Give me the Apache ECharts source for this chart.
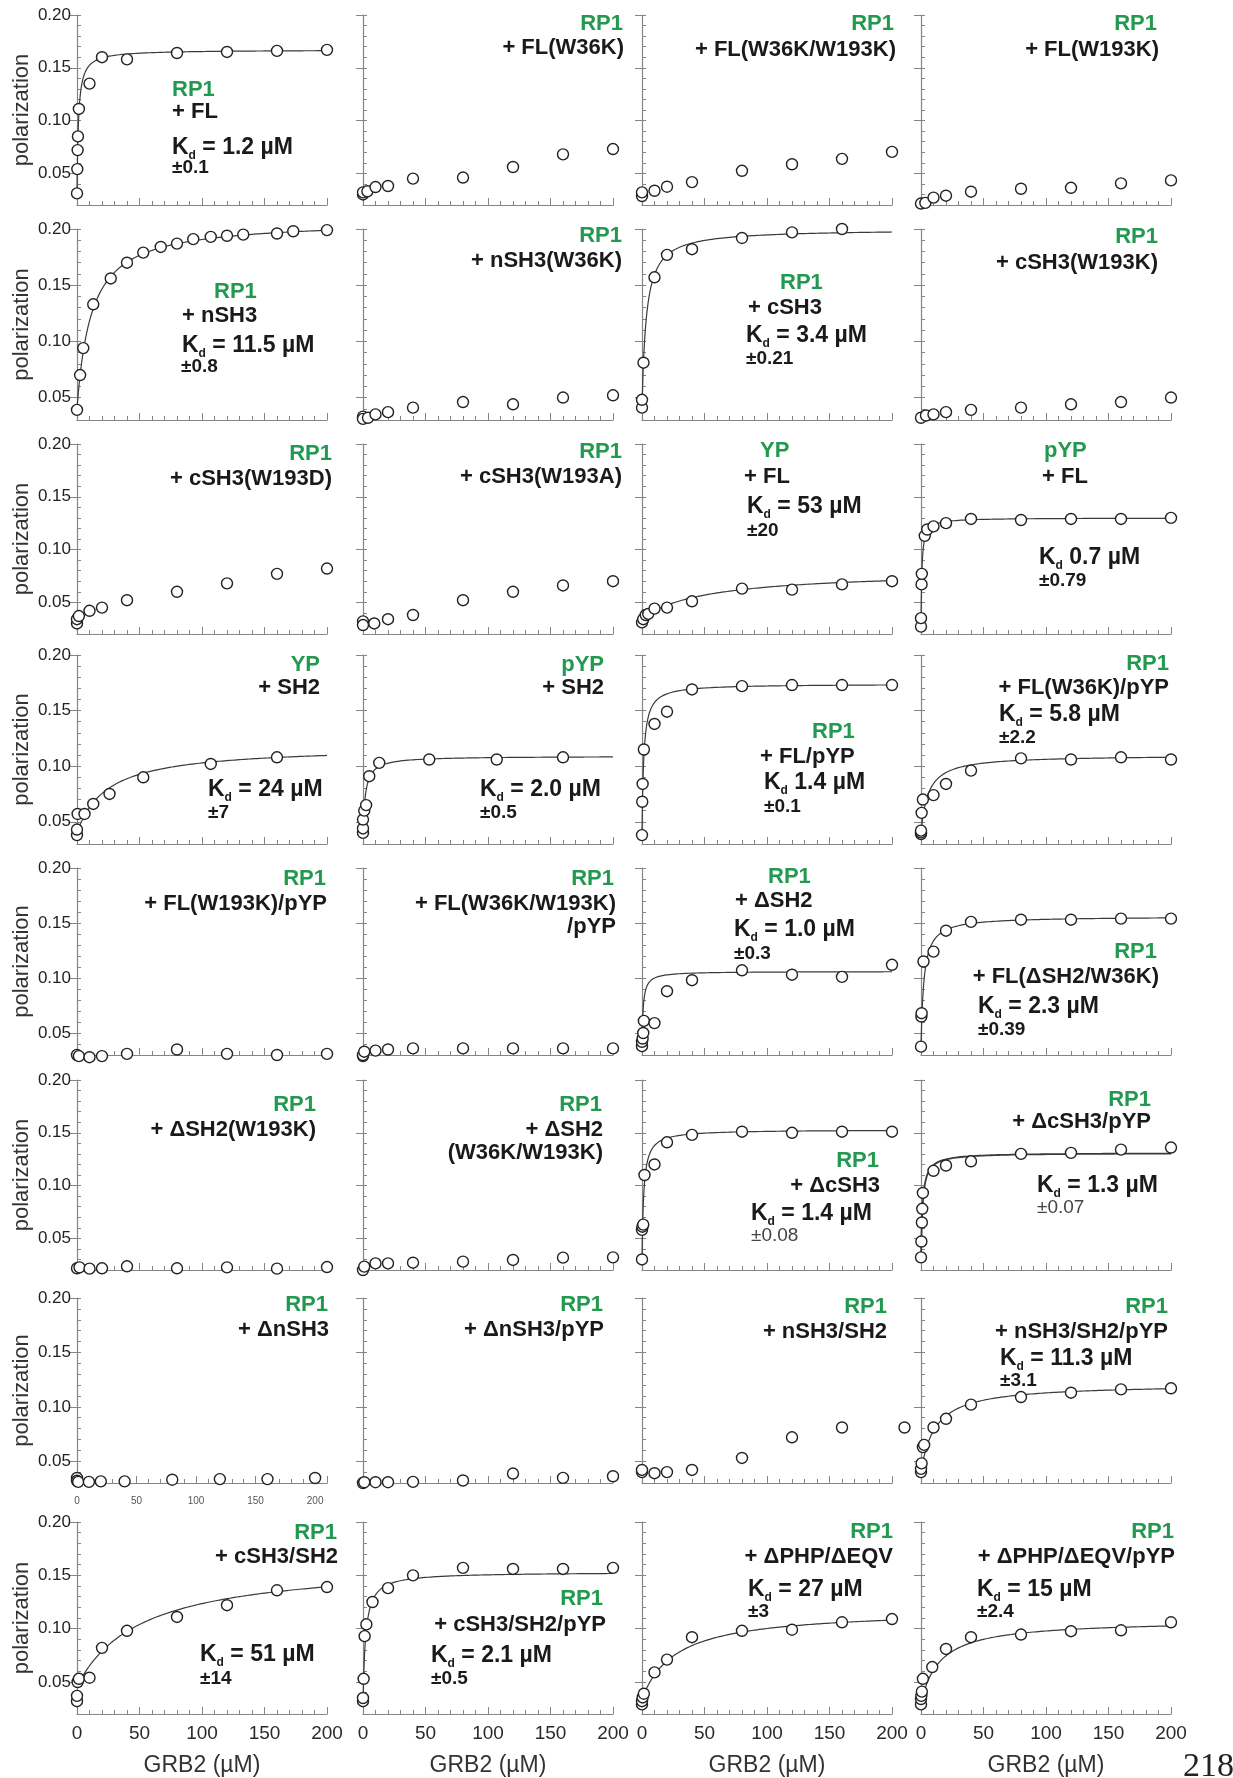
<!DOCTYPE html>
<html>
<head>
<meta charset="utf-8">
<title>GRB2 binding titrations</title>
<script src="https://cdn.jsdelivr.net/npm/echarts@6.0.0/dist/echarts.min.js"></script>
<style>
  html, body { margin: 0; padding: 0; background: #ffffff; }
  #chart { width: 1233px; height: 1778px; }
</style>
</head>
<body>
<div id="chart"></div>
<script>
// Fluorescence polarization titrations of labelled peptides with GRB2 constructs.
// Each panel holds [GRB2 (µM), polarization] pairs.
const rp1_FL = [[0,0.031],[0.25,0.054],[0.5,0.072],[0.75,0.085],[1.5,0.111],[10,0.135],[20,0.160],[40,0.158],[80,0.164],[120,0.165],[160,0.166],[200,0.167]];
const rp1_FL_W36K = [[0,0.030],[0,0.032],[3.5,0.033],[10,0.037],[20,0.038],[40,0.045],[80,0.046],[120,0.056],[160,0.068],[200,0.073]];
const rp1_FL_W36K_W193K = [[0,0.0285],[0,0.032],[10,0.0335],[20,0.0373],[40,0.0417],[80,0.0524],[120,0.0586],[160,0.0637],[200,0.0703]];
const rp1_FL_W193K = [[0,0.0214],[3.5,0.022],[10,0.027],[20,0.0288],[40,0.0326],[80,0.0354],[120,0.0363],[160,0.0405],[200,0.0433]];

const rp1_nSH3 = [[0,0.039],[2.5,0.070],[5,0.094],[13,0.133],[27,0.156],[40,0.170],[53,0.179],[67,0.184],[80,0.187],[93,0.191],[107,0.193],[120,0.194],[133,0.195],[160,0.196],[173,0.198],[200,0.199]];
const rp1_nSH3_W36K = [[0,0.033],[0,0.031],[4,0.032],[10,0.035],[20,0.037],[40,0.041],[80,0.046],[120,0.044],[160,0.050],[200,0.052]];
const rp1_cSH3 = [[0,0.041],[0,0.048],[1.2,0.081],[10,0.157],[20,0.177],[40,0.182],[80,0.192],[120,0.197],[160,0.200]];
const rp1_cSH3_W193K = [[0,0.032],[4,0.034],[10,0.035],[20,0.037],[40,0.039],[80,0.041],[120,0.044],[160,0.046],[200,0.050]];

const rp1_cSH3_W193D = [[0,0.030],[0,0.034],[1.5,0.037],[10,0.042],[20,0.045],[40,0.052],[80,0.060],[120,0.068],[160,0.077],[200,0.082]];
const rp1_cSH3_W193A = [[0,0.032],[0,0.0285],[9,0.030],[20,0.034],[40,0.038],[80,0.052],[120,0.060],[160,0.066],[200,0.070]];
const yp_FL = [[0,0.031],[1,0.034],[3,0.038],[5,0.039],[10,0.044],[20,0.045],[40,0.051],[80,0.063],[120,0.062],[160,0.067],[200,0.070]];
const pyp_FL = [[0,0.027],[0,0.035],[0.45,0.067],[0.65,0.077],[3,0.113],[5,0.119],[10,0.122],[20,0.125],[40,0.129],[80,0.128],[120,0.129],[160,0.129],[200,0.130]];

const yp_SH2 = [[0,0.038],[0,0.043],[0.5,0.057],[6,0.057],[13,0.066],[26,0.075],[53,0.090],[107,0.102],[160,0.108]];
const pyp_SH2 = [[0,0.040],[0,0.044],[0,0.052],[1,0.060],[2.5,0.065],[5,0.091],[13,0.103],[53,0.106],[107,0.106],[160,0.108]];
const rp1_FL_pYP = [[0,0.038],[0.2,0.068],[0.5,0.084],[1.5,0.115],[10,0.138],[20,0.149],[40,0.169],[80,0.172],[120,0.173],[160,0.173],[200,0.173]];
const rp1_FL_W36K_pYP = [[0,0.039],[0,0.0405],[0,0.042],[0.5,0.058],[1.5,0.070],[10,0.074],[20,0.084],[40,0.096],[80,0.107],[120,0.106],[160,0.108],[200,0.106]];

const rp1_FL_W193K_pYP = [[0,0.030],[1.5,0.029],[10,0.028],[20,0.029],[40,0.031],[80,0.035],[120,0.031],[160,0.030],[200,0.031]];
const rp1_FL_W36K_W193K_pYP = [[0,0.029],[0,0.030],[1,0.033],[10,0.034],[20,0.035],[40,0.036],[80,0.036],[120,0.036],[160,0.036],[200,0.036]];
const rp1_dSH2 = [[0,0.038],[0,0.042],[0.5,0.045],[1,0.050],[1.5,0.061],[10,0.059],[20,0.088],[40,0.098],[80,0.107],[120,0.103],[160,0.101],[200,0.112]];
const rp1_FL_dSH2_W36K = [[0,0.0376],[0.3,0.065],[0.5,0.068],[2,0.115],[10,0.124],[20,0.143],[40,0.151],[80,0.153],[120,0.153],[160,0.154],[200,0.154]];

const rp1_dSH2_W193K = [[0,0.0216],[2,0.0225],[10,0.0213],[20,0.0216],[40,0.0235],[80,0.0216],[120,0.0225],[160,0.0213],[200,0.0228]];
const rp1_dSH2_W36K_W193K = [[0,0.020],[1,0.0232],[10,0.0263],[20,0.0263],[40,0.0269],[80,0.0279],[120,0.0295],[160,0.0317],[200,0.032]];
const rp1_dcSH3 = [[0,0.030],[0,0.058],[0.3,0.061],[1,0.063],[2,0.110],[10,0.120],[20,0.141],[40,0.148],[80,0.151],[120,0.150],[160,0.151],[200,0.151]];
const rp1_dcSH3_pYP = [[0,0.032],[0.3,0.047],[0.7,0.065],[1,0.078],[1.5,0.093],[10,0.114],[20,0.119],[40,0.123],[80,0.130],[120,0.131],[160,0.134],[200,0.136]];

const rp1_dnSH3 = [[0,0.0346],[0,0.032],[1,0.031],[10,0.031],[20,0.0315],[40,0.0315],[80,0.033],[120,0.0336],[160,0.0336],[200,0.0346]];
const rp1_dnSH3_pYP = [[0,0.030],[1,0.0307],[10,0.0307],[20,0.0307],[40,0.031],[80,0.0323],[120,0.0387],[160,0.0347],[200,0.0362]];
const rp1_nSH3_SH2 = [[0,0.040],[0,0.042],[10,0.039],[20,0.040],[40,0.042],[80,0.053],[120,0.072],[160,0.081],[210,0.081]];
const rp1_nSH3_SH2_pYP = [[0,0.040],[0,0.043],[0.5,0.048],[1.5,0.063],[2.5,0.065],[10,0.081],[20,0.089],[40,0.102],[80,0.109],[120,0.113],[160,0.116],[200,0.117]];

const rp1_cSH3_SH2 = [[0,0.032],[0,0.037],[0.5,0.050],[1.5,0.053],[10,0.054],[20,0.082],[40,0.098],[80,0.111],[120,0.122],[160,0.136],[200,0.139]];
const rp1_cSH3_SH2_pYP = [[0,0.032],[0,0.035],[0.5,0.053],[1.3,0.093],[2.7,0.104],[7.6,0.125],[20,0.138],[40,0.150],[80,0.157],[120,0.156],[160,0.156],[200,0.157]];
const rp1_dPHP_dEQV = [[0,0.029],[0,0.032],[0.5,0.0355],[1.5,0.039],[10,0.059],[20,0.071],[40,0.092],[80,0.098],[120,0.099],[160,0.106],[200,0.109]];
const rp1_dPHP_dEQV_pYP = [[0,0.029],[0,0.034],[0.3,0.037],[0.7,0.041],[1.5,0.053],[9,0.064],[20,0.081],[40,0.092],[80,0.0945],[120,0.0976],[160,0.0985],[200,0.106]];

// Panels in reading order (4 per row).
const panelPoints = [
  rp1_FL, rp1_FL_W36K, rp1_FL_W36K_W193K, rp1_FL_W193K,
  rp1_nSH3, rp1_nSH3_W36K, rp1_cSH3, rp1_cSH3_W193K,
  rp1_cSH3_W193D, rp1_cSH3_W193A, yp_FL, pyp_FL,
  yp_SH2, pyp_SH2, rp1_FL_pYP, rp1_FL_W36K_pYP,
  rp1_FL_W193K_pYP, rp1_FL_W36K_W193K_pYP, rp1_dSH2, rp1_FL_dSH2_W36K,
  rp1_dSH2_W193K, rp1_dSH2_W36K_W193K, rp1_dcSH3, rp1_dcSH3_pYP,
  rp1_dnSH3, rp1_dnSH3_pYP, rp1_nSH3_SH2, rp1_nSH3_SH2_pYP,
  rp1_cSH3_SH2, rp1_cSH3_SH2_pYP, rp1_dPHP_dEQV, rp1_dPHP_dEQV_pYP
];

const peptides = [
  'RP1','RP1','RP1','RP1',
  'RP1','RP1','RP1','RP1',
  'RP1','RP1','YP','pYP',
  'YP','pYP','RP1','RP1',
  'RP1','RP1','RP1','RP1',
  'RP1','RP1','RP1','RP1',
  'RP1','RP1','RP1','RP1',
  'RP1','RP1','RP1','RP1'
];

const constructs = [
  '+ FL', '+ FL(W36K)', '+ FL(W36K/W193K)', '+ FL(W193K)',
  '+ nSH3', '+ nSH3(W36K)', '+ cSH3', '+ cSH3(W193K)',
  '+ cSH3(W193D)', '+ cSH3(W193A)', '+ FL', '+ FL',
  '+ SH2', '+ SH2', '+ FL/pYP', '+ FL(W36K)/pYP',
  '+ FL(W193K)/pYP', '+ FL(W36K/W193K)\n/pYP', '+ ΔSH2', '+ FL(ΔSH2/W36K)',
  '+ ΔSH2(W193K)', '+ ΔSH2\n(W36K/W193K)', '+ ΔcSH3', '+ ΔcSH3/pYP',
  '+ ΔnSH3', '+ ΔnSH3/pYP', '+ nSH3/SH2', '+ nSH3/SH2/pYP',
  '+ cSH3/SH2', '+ cSH3/SH2/pYP', '+ ΔPHP/ΔEQV', '+ ΔPHP/ΔEQV/pYP'
];

// Dissociation constants (µM) with their errors; null where no binding was fitted.
const kdValues = [
  '1.2', null, null, null,
  '11.5', null, '3.4', null,
  null, null, '53', '0.7',
  '24', '2.0', '1.4', '5.8',
  null, null, '1.0', '2.3',
  null, null, '1.4', '1.3',
  null, null, null, '11.3',
  '51', '2.1', '27', '15'
];
const kdErrors = [
  '±0.1', null, null, null,
  '±0.8', null, '±0.21', null,
  null, null, '±20', '±0.79',
  '±7', '±0.5', '±0.1', '±2.2',
  null, null, '±0.3', '±0.39',
  null, null, '±0.08', '±0.07',
  null, null, null, '±3.1',
  '±14', '±0.5', '±3', '±2.4'
];
// Kd printed without "=" in these panels
const kdNoEquals = [11, 14];

// Baseline and plateau polarization of each fitted isotherm.
const fitBottom = [
  0.031, null, null, null,
  0.040, null, 0.040, null,
  null, null, 0.035, 0.027,
  0.040, 0.040, 0.038, 0.040,
  null, null, 0.040, 0.037,
  null, null, 0.030, 0.030,
  null, null, null, 0.040,
  0.046, 0.030, 0.034, 0.030
];
const fitPlateau = [
  0.167, null, null, null,
  0.208, null, 0.200, null,
  null, null, 0.080, 0.130,
  0.118, 0.109, 0.174, 0.110,
  null, null, 0.106, 0.156,
  null, null, 0.153, 0.131,
  null, null, null, 0.121,
  0.163, 0.153, 0.118, 0.108
];

const yTickLabels = [0.05, 0.10, 0.15, 0.20];
const xTickLabels = [0, 50, 100, 150, 200];

// ---- layout ----
const FONT = '"Liberation Sans", Arial, Helvetica, sans-serif';
const AXIS_COLOR = '#858585';
const GREEN = '#22994f';
const INK = '#1a1a1a';
const colLeft = [77, 363, 642, 921];
const panelWidth = 250;
const rowTop = [15, 229, 444, 655, 868, 1080, 1298, 1522];
const rowBottom = [205, 420, 634, 844, 1055, 1270, 1483, 1715];
const rowYMin = [0.02, 0.03, 0.02, 0.03, 0.03, 0.02, 0.03, 0.02];

// Text placement inside each panel: [dx from y-axis, dy from top, align]
const labelLayout = [
  { pep: [95, 75, 'left'], con: [95, 97, 'left'], kd: [95, 133], err: [95, 153] },
  { pep: [260, 9, 'right'], con: [261, 33, 'right'] },
  { pep: [252, 9, 'right'], con: [254, 35, 'right'] },
  { pep: [236, 9, 'right'], con: [238, 35, 'right'] },

  { pep: [137, 63, 'left'], con: [105, 87, 'left'], kd: [105, 117], err: [104, 138] },
  { pep: [259, 7, 'right'], con: [259, 32, 'right'] },
  { pep: [138, 54, 'left'], con: [106, 79, 'left'], kd: [104, 107], err: [104, 130] },
  { pep: [237, 8, 'right'], con: [237, 34, 'right'] },

  { pep: [255, 10, 'right'], con: [255, 35, 'right'] },
  { pep: [259, 8, 'right'], con: [259, 33, 'right'] },
  { pep: [118, 7, 'left'], con: [102, 33, 'left'], kd: [105, 63], err: [105, 87] },
  { pep: [123, 7, 'left'], con: [121, 33, 'left'], kd: [118, 114], err: [118, 137] },

  { pep: [243, 10, 'right'], con: [243, 33, 'right'], kd: [131, 135], err: [131, 158] },
  { pep: [241, 10, 'right'], con: [241, 33, 'right'], kd: [117, 135], err: [117, 158] },
  { pep: [170, 77, 'left'], con: [118, 102, 'left'], kd: [122, 128], err: [122, 152] },
  { pep: [248, 9, 'right'], con: [248, 33, 'right'], kd: [78, 60], err: [78, 83] },

  { pep: [249, 11, 'right'], con: [250, 36, 'right'] },
  { pep: [251, 11, 'right'], con: [253, 36, 'right'] },
  { pep: [126, 9, 'left'], con: [93, 33, 'left'], kd: [92, 62], err: [92, 86] },
  { pep: [236, 84, 'right'], con: [238, 109, 'right'], kd: [57, 139], err: [57, 162] },

  { pep: [239, 25, 'right'], con: [239, 50, 'right'] },
  { pep: [239, 25, 'right'], con: [240, 50, 'right'] },
  { pep: [237, 81, 'right'], con: [238, 106, 'right'], kd: [109, 134], err: [109, 156], errLight: true },
  { pep: [230, 20, 'right'], con: [230, 42, 'right'], kd: [116, 106], err: [116, 128], errLight: true },

  { pep: [251, 7, 'right'], con: [252, 32, 'right'] },
  { pep: [240, 7, 'right'], con: [241, 32, 'right'] },
  { pep: [245, 9, 'right'], con: [245, 34, 'right'] },
  { pep: [247, 9, 'right'], con: [247, 34, 'right'], kd: [79, 61], err: [79, 83] },

  { pep: [260, 11, 'right'], con: [261, 35, 'right'], kd: [123, 133], err: [123, 157] },
  { pep: [240, 77, 'right'], con: [243, 103, 'right'], kd: [68, 134], err: [68, 157] },
  { pep: [251, 10, 'right'], con: [251, 35, 'right'], kd: [106, 68], err: [106, 90] },
  { pep: [253, 10, 'right'], con: [254, 35, 'right'], kd: [56, 68], err: [56, 90] }
];

// Single-site binding isotherm drawn from the panel's Kd.
function bindingCurve(kd, bottom, plateau) {
  const pts = [];
  const span = plateau - bottom;
  const add = (x) => pts.push([x, bottom + span * x / (kd + x)]);
  for (let k = 0; k < 100; k++) add(k * 0.02);
  for (let k = 0; k < 90; k++) add(2 + k * 0.2);
  for (let k = 0; k <= 90; k++) add(20 + k * 2);
  return pts;
}

function textEl(x, y, text, style) {
  return {
    type: 'text', x, y, z: 10, silent: true,
    style: Object.assign({ text, fontFamily: FONT }, style)
  };
}

const grid = [], xAxis = [], yAxis = [], series = [], elements = [];

panelPoints.forEach((pts, i) => {
  const r = Math.floor(i / 4), c = i % 4;
  const left = colLeft[c], top = rowTop[r], height = rowBottom[r] - rowTop[r];
  grid.push({ left, top, width: panelWidth, height, containLabel: false });

  const bottomRow = r === 7;
  const compactScale = i === 24;   // this panel's axis runs a little past 200
  let xLabel = { show: false };
  if (bottomRow) {
    xLabel = { show: true, customValues: xTickLabels, fontSize: 19, color: '#2a2a2a', margin: 10, fontFamily: FONT };
  } else if (compactScale) {
    xLabel = { show: true, customValues: xTickLabels, fontSize: 10, color: '#555', margin: 13, fontFamily: FONT };
  }
  xAxis.push({
    type: 'value', gridIndex: i, min: 0, max: compactScale ? 210 : 200, interval: 50,
    axisLine: { show: true, onZero: false, lineStyle: { color: AXIS_COLOR, width: 1.2 } },
    axisTick: { show: true, inside: true, length: 7, lineStyle: { color: AXIS_COLOR, width: 1 } },
    minorTick: { show: true, splitNumber: 5, length: 4, lineStyle: { color: AXIS_COLOR, width: 1 } },
    splitLine: { show: false }, minorSplitLine: { show: false },
    axisLabel: xLabel,
    name: bottomRow ? 'GRB2 (µM)' : '',
    nameLocation: 'middle', nameGap: 40,
    nameTextStyle: { fontSize: 23, color: '#333', fontFamily: FONT }
  });

  const ymin = rowYMin[r];
  yAxis.push({
    type: 'value', gridIndex: i, min: ymin, max: 0.2, interval: 0.01,
    axisLine: { show: true, onZero: false, lineStyle: { color: AXIS_COLOR, width: 1.2 } },
    axisTick: { show: true, inside: true, length: 4, lineStyle: { color: AXIS_COLOR, width: 1 } },
    splitLine: { show: false },
    axisLabel: c === 0
      ? { show: true, customValues: yTickLabels, formatter: (v) => v.toFixed(2), fontSize: 17, color: '#222', margin: 6, fontFamily: FONT }
      : { show: false },
    name: c === 0 ? 'polarization' : '',
    nameLocation: 'middle', nameGap: 44, nameRotate: 90,
    nameTextStyle: { fontSize: 22, color: '#333', fontFamily: FONT }
  });
  // longer ticks at the labelled values
  yAxis.push({
    type: 'value', gridIndex: i, min: ymin, max: 0.2, interval: 0.01,
    axisLine: { show: false },
    axisTick: { show: true, inside: true, length: 7, customValues: yTickLabels, lineStyle: { color: AXIS_COLOR, width: 1 } },
    axisLabel: { show: false }, splitLine: { show: false }
  });

  if (kdValues[i] !== null) {
    series.push({
      type: 'line', xAxisIndex: i, yAxisIndex: 2 * i,
      data: bindingCurve(Number(kdValues[i]), fitBottom[i], fitPlateau[i]),
      showSymbol: false, symbol: 'none', silent: true, animation: false, clip: true, z: 2,
      lineStyle: { color: '#3a3a3a', width: i === 23 ? 1.8 : 1.2 }
    });
  }
  series.push({
    type: 'scatter', xAxisIndex: i, yAxisIndex: 2 * i, data: pts,
    symbol: 'circle', symbolSize: 11, clip: false, animation: false, silent: true, z: 3,
    itemStyle: { color: '#ffffff', borderColor: '#222', borderWidth: 1.4, opacity: 1 }
  });

  // panel annotations
  const L = labelLayout[i];
  elements.push(textEl(left + L.pep[0], top + L.pep[1], peptides[i], {
    fontSize: 22, fontWeight: 'bold', fill: GREEN,
    align: L.pep[2], textAlign: L.pep[2], verticalAlign: 'middle', textVerticalAlign: 'middle'
  }));
  elements.push(textEl(left + L.con[0], top + L.con[1] - 11.5, constructs[i], {
    fontSize: 22, fontWeight: 'bold', fill: INK, lineHeight: 23,
    align: L.con[2], textAlign: L.con[2], verticalAlign: 'top', textVerticalAlign: 'top'
  }));
  if (kdValues[i] !== null) {
    const sep = kdNoEquals.includes(i) ? ' ' : ' = ';
    elements.push(textEl(left + L.kd[0], top + L.kd[1], '{k|K}{d|d}{k|' + sep + kdValues[i] + ' µM}', {
      align: 'left', textAlign: 'left', verticalAlign: 'middle', textVerticalAlign: 'middle',
      rich: {
        k: { fontSize: 23, fontWeight: 'bold', fontFamily: FONT, fill: INK, color: INK, lineHeight: 28 },
        d: { fontSize: 12, fontWeight: 'bold', fontFamily: FONT, fill: INK, color: INK, lineHeight: 12, verticalAlign: 'bottom' }
      }
    }));
    elements.push(textEl(left + L.err[0], top + L.err[1], kdErrors[i], {
      fontSize: 19, fontWeight: L.errLight ? 'normal' : 'bold', fill: L.errLight ? '#444' : INK,
      align: 'left', textAlign: 'left', verticalAlign: 'middle', textVerticalAlign: 'middle'
    }));
  }
});

// page number
elements.push(textEl(1183, 1767, '218', {
  fontSize: 34, fontFamily: '"Liberation Serif", "Times New Roman", serif', fill: '#222',
  align: 'left', textAlign: 'left', verticalAlign: 'middle', textVerticalAlign: 'middle'
}));

const chart = echarts.init(document.getElementById('chart'), null, { renderer: 'canvas', width: 1233, height: 1778 });
chart.setOption({
  backgroundColor: '#ffffff',
  animation: false,
  grid, xAxis, yAxis, series,
  graphic: { elements }
});
</script>
</body>
</html>
